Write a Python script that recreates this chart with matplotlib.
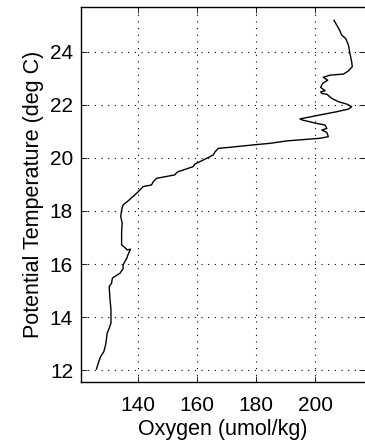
import numpy as np
import matplotlib
matplotlib.use('Agg')
import matplotlib.pyplot as plt

# oxygen (umol/kg) vs potential temperature (deg C), traced from top to bottom
oxygen = [206.4, 208.2, 209.0, 210.4, 211.3, 211.8, 212.4, 212.6, 211.3, 209.6,
          205.1, 202.8, 204.3, 202.6, 201.9, 203.4, 201.9, 202.3, 204.0, 205.7,
          207.9, 210.7, 212.4, 211.3, 207.3, 201.7, 194.9, 196.0, 200.6, 203.4,
          204.0, 202.3, 204.0, 204.5, 201.7, 196.0, 190.4, 184.8, 179.1, 171.2,
          167.3, 166.2, 165.6, 161.1, 159.4, 158.8, 153.7, 153.0, 152.6, 146.4,
          145.3, 144.7, 141.9, 139.7, 138.5, 136.8, 135.1, 134.6, 134.3, 134.8,
          134.6, 134.6, 135.7, 136.5, 137.6, 136.5, 136.5, 135.7, 135.1, 135.1,
          134.0, 132.3, 131.5, 131.2, 130.4, 130.6, 131.0, 131.0, 130.4, 129.7,
          129.3, 128.6, 127.5, 126.7, 126.1]
theta = [25.19, 24.84, 24.63, 24.50, 24.25, 23.94, 23.62, 23.44, 23.28, 23.16,
         23.12, 23.04, 22.93, 22.81, 22.66, 22.53, 22.49, 22.43, 22.40, 22.24,
         22.12, 22.03, 21.93, 21.84, 21.74, 21.62, 21.47, 21.42, 21.30, 21.24,
         21.11, 21.05, 20.96, 20.80, 20.74, 20.69, 20.64, 20.55, 20.49, 20.40,
         20.36, 20.23, 20.11, 19.86, 19.77, 19.67, 19.48, 19.42, 19.36, 19.23,
         19.10, 18.98, 18.92, 18.67, 18.55, 18.38, 18.23, 18.04, 17.79, 17.54,
         17.22, 16.72, 16.62, 16.53, 16.56, 16.28, 16.25, 16.09, 15.97, 15.82,
         15.65, 15.53, 15.47, 15.28, 15.15, 14.77, 14.27, 13.77, 13.58, 13.39,
         13.01, 12.70, 12.51, 12.26, 12.04]

xticks = [140, 160, 180, 200]
yticks = [12, 14, 16, 18, 20, 22, 24]

plt.rcParams['font.family'] = ['Liberation Sans', 'DejaVu Sans']

fig = plt.figure(figsize=(3.65, 4.47), dpi=100)
ax = fig.add_axes([0.223, 0.1447, 0.777, 0.8403])
ax.plot(oxygen, theta, color='black', linewidth=1.0)

ax.set_xlim(121, 216.9)
ax.set_ylim(11.54, 25.7)
ax.set_xticks(xticks)
ax.set_yticks(yticks)
ax.tick_params(direction='in', length=4, width=0.6, labelsize=15, pad=6,
               top=True, right=True)
ax.tick_params(axis='x', pad=9.5)
ax.grid(True, color='black', linestyle=(0, (1, 5)), linewidth=0.8)
for s in ax.spines.values():
    s.set_linewidth(1.0)
ax.spines['right'].set_visible(False)

ax.set_xlabel('Oxygen (umol/kg)', fontsize=15.5, labelpad=3)
ax.set_ylabel('Potential Temperature (deg C)', fontsize=15.5, labelpad=4)

fig.savefig('out.png', dpi=100)
